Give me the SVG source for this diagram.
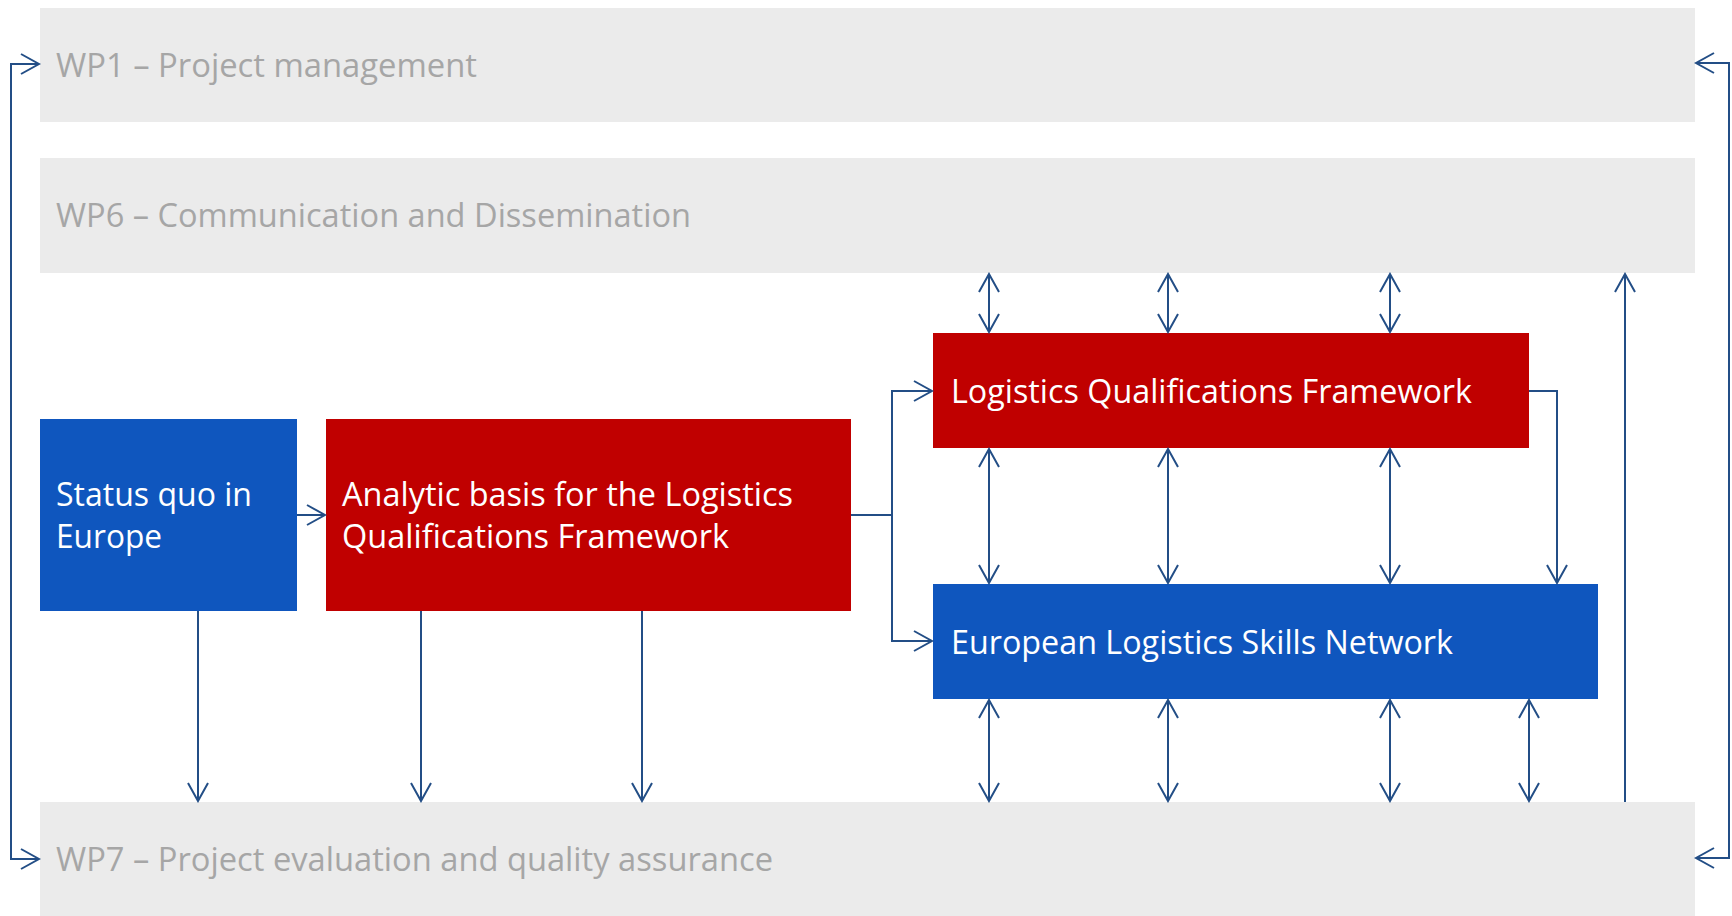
<svg xmlns="http://www.w3.org/2000/svg" width="1732" height="916" viewBox="0 0 1732 916">
<style>
.wp{fill:#EBEBEB}
.wpt{font-family:"Open Sans","Liberation Sans",sans-serif;font-size:33px;fill:#A6A6A6}
.bt{font-family:"Open Sans","Liberation Sans",sans-serif;font-size:33px;fill:#FFFFFF}
.red{fill:#C00000}
.blue{fill:#0F56BE}
.c{fill:none;stroke:#234E86;stroke-width:2}
.a{marker-end:url(#ah)}
.d{marker-start:url(#ah);marker-end:url(#ah)}
</style>
<defs>
<marker id="ah" markerUnits="userSpaceOnUse" viewBox="-20 -12 22 24" markerWidth="22" markerHeight="24" refX="0" refY="0" orient="auto-start-reverse">
<path d="M-18,-10 L0,0 L-18,10" fill="none" stroke="#234E86" stroke-width="2"/>
</marker>
</defs>
<rect width="1732" height="916" fill="#FFFFFF"/>
<g id="wp1"><rect class="wp" x="40" y="8" width="1655" height="114"/><text class="wpt" x="56" y="77" textLength="421" lengthAdjust="spacingAndGlyphs">WP1 – Project management</text></g>
<g id="wp6"><rect class="wp" x="40" y="158" width="1655" height="115"/><text class="wpt" x="56" y="227" textLength="635" lengthAdjust="spacingAndGlyphs">WP6 – Communication and Dissemination</text></g>
<g id="wp7"><rect class="wp" x="40" y="802" width="1655" height="114"/><text class="wpt" x="56" y="871" textLength="717" lengthAdjust="spacingAndGlyphs">WP7 – Project evaluation and quality assurance</text></g>
<g id="status"><rect class="blue" x="40" y="419" width="257" height="192"/><text class="bt" x="56" y="506" textLength="196" lengthAdjust="spacingAndGlyphs">Status quo in</text><text class="bt" x="56" y="548" textLength="106" lengthAdjust="spacingAndGlyphs">Europe</text></g>
<g id="analytic"><rect class="red" x="326" y="419" width="525" height="192"/><text class="bt" x="342" y="506" textLength="451" lengthAdjust="spacingAndGlyphs">Analytic basis for the Logistics</text><text class="bt" x="342" y="548" textLength="387" lengthAdjust="spacingAndGlyphs">Qualifications Framework</text></g>
<g id="lqf"><rect class="red" x="933" y="333" width="596" height="115"/><text class="bt" x="951" y="403" textLength="521" lengthAdjust="spacingAndGlyphs">Logistics Qualifications Framework</text></g>
<g id="elsn"><rect class="blue" x="933" y="584" width="665" height="115"/><text class="bt" x="951" y="654" textLength="502" lengthAdjust="spacingAndGlyphs">European Logistics Skills Network</text></g>
<g id="connectors">
<path class="c d" d="M39,64 L11,64 L11,859 L39,859"/>
<path class="c d" d="M1696,63 L1729,63 L1729,858 L1696,858"/>
<path class="c a" d="M297,515 L325,515"/>
<path class="c" d="M851,515 L892,515"/>
<path class="c a" d="M892,515 L892,391 L932,391"/>
<path class="c a" d="M892,515 L892,641 L932,641"/>
<path class="c a" d="M198,611 L198,801"/>
<path class="c a" d="M421,611 L421,801"/>
<path class="c a" d="M642,611 L642,801"/>
<path class="c d" d="M989,274 L989,332"/>
<path class="c d" d="M1168,274 L1168,332"/>
<path class="c d" d="M1390,274 L1390,332"/>
<path class="c d" d="M989,449 L989,583"/>
<path class="c d" d="M1168,449 L1168,583"/>
<path class="c d" d="M1390,449 L1390,583"/>
<path class="c a" d="M1529,391 L1557,391 L1557,583"/>
<path class="c d" d="M989,700 L989,801"/>
<path class="c d" d="M1168,700 L1168,801"/>
<path class="c d" d="M1390,700 L1390,801"/>
<path class="c d" d="M1529,700 L1529,801"/>
<path class="c a" d="M1625,802 L1625,274"/>
</g>
</svg>
